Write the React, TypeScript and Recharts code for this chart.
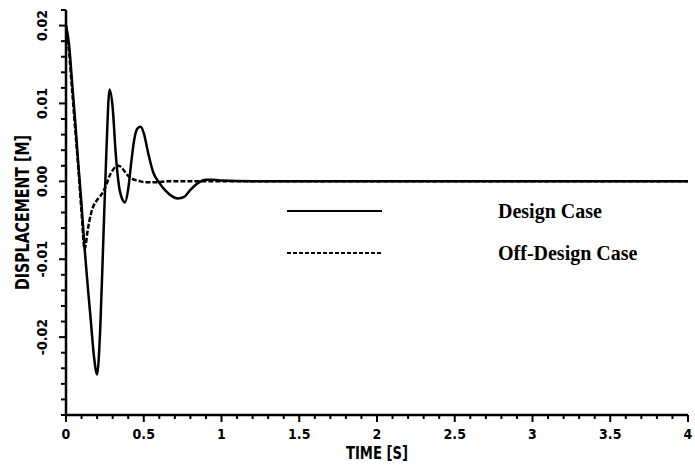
import { LineChart, Line, XAxis, YAxis, Legend } from "recharts";

// time [s] and displacement [m]
const time = [
  0, 0.02, 0.04, 0.06, 0.08, 0.1, 0.12, 0.14, 0.16, 0.18, 0.2, 0.22, 0.24, 0.26, 0.28, 0.3,
  0.32, 0.34, 0.36, 0.38, 0.4, 0.42, 0.44, 0.46, 0.48, 0.5, 0.53, 0.56, 0.6, 0.64, 0.68, 0.72,
  0.76, 0.8, 0.85, 0.9, 0.95, 1.0, 1.2, 1.5, 2, 2.5, 3, 3.5, 4,
];
const designCase = [
  0.02, 0.0175, 0.0125, 0.0075, 0.002, -0.003, -0.0087, -0.0135, -0.018, -0.0225, -0.0248, -0.019,
  -0.0075, 0.004, 0.0118, 0.0095, 0.0035, -0.0005, -0.0022, -0.0027, -0.001, 0.0025, 0.0055, 0.0068,
  0.007, 0.0062, 0.0035, 0.0012, -0.0002, -0.0012, -0.0019, -0.0022, -0.002, -0.0011, -0.0002, 0.0002,
  0.0002, 0.0001, 0, 0, 0, 0, 0, 0, 0,
];
const offDesignCase = [
  0.02, 0.0165, 0.0115, 0.0065, 0.0015, -0.004, -0.0087, -0.0062, -0.0042, -0.003, -0.0024, -0.0019,
  -0.0013, -0.0004, 0.0007, 0.0014, 0.0019, 0.002, 0.0017, 0.0012, 0.0007, 0.0004, 0.0002, 0.0001,
  0, -0.0001, -0.0001, -0.0001, -0.0001, 0, 0, 0, 0, 0, 0, 0, 0, 0, 0, 0, 0, 0, 0, 0, 0,
];

const xMajorTicks = [0, 0.5, 1, 1.5, 2, 2.5, 3, 3.5, 4];
const xTickLabels = ["0", "0.5", "1", "1.5", "2", "2.5", "3", "3.5", "4"];
const yMajorTicks = [-0.02, -0.01, 0, 0.01, 0.02];
const yTickLabels = ["-0.02", "-0.01", "0.00", "0.01", "0.02"];

// minor ticks: every 0.1 s and every 0.002 m
const xTicks = Array.from({ length: 41 }, (_, i) => i / 10);
const yTicks = Array.from({ length: 27 }, (_, i) => Math.round((-0.03 + i * 0.002) * 1000) / 1000);

const data = time.map((t, i) => ({ t, design: designCase[i], offDesign: offDesignCase[i] }));

const NARROW = "'Liberation Sans Narrow', 'DejaVu Sans Condensed', 'Liberation Sans', sans-serif";
const SERIF = "'Liberation Serif', 'DejaVu Serif', serif";

const findMajor = (list: number[], v: number) => list.findIndex(m => Math.abs(m - v) < 1e-6);

function XTick(props: any) {
  const { x, y, payload } = props;
  const idx = findMajor(xMajorTicks, payload.value);
  return (
    <g>
      <line x1={x} x2={x} y1={y} y2={y + (idx >= 0 ? 7 : 4)} stroke="#000" strokeWidth={2} />
      {idx >= 0 && (
        <text x={x} y={y + 24} textAnchor="middle" fontFamily={NARROW} fontWeight="bold" fontSize={14} fill="#000">
          {xTickLabels[idx]}
        </text>
      )}
    </g>
  );
}

function YTick(props: any) {
  const { x, y, payload } = props;
  const idx = findMajor(yMajorTicks, payload.value);
  return (
    <g>
      <line x1={x - (idx >= 0 ? 7 : 5)} x2={x} y1={y} y2={y} stroke="#000" strokeWidth={2} />
      {idx >= 0 && (
        <text
          x={x - 24}
          y={y}
          transform={`rotate(-90 ${x - 24} ${y})`}
          textAnchor="middle"
          dominantBaseline="central"
          fontFamily={NARROW}
          fontWeight="bold"
          fontSize={14}
          fill="#000"
        >
          {yTickLabels[idx]}
        </text>
      )}
    </g>
  );
}

function LegendBox(props: any) {
  const items = props.payload || [];
  return (
    <svg width={400} height={84}>
      {items.map((it: any, i: number) => {
        const cy = 21 + i * 42;
        return (
          <g key={it.value}>
            <line
              x1={7}
              x2={102}
              y1={cy}
              y2={cy}
              stroke="#000"
              strokeWidth={2}
              strokeDasharray={i === 1 ? "4 2" : undefined}
            />
            <text x={218} y={cy} dominantBaseline="central" fontFamily={SERIF} fontWeight="bold" fontSize={20} fill="#000">
              {it.value}
            </text>
          </g>
        );
      })}
    </svg>
  );
}

export default function App() {
  return (
    <div style={{ position: "absolute", left: 0, top: 0, background: "#fff" }}>
      <LineChart width={695} height={468} data={data} margin={{ top: 10, right: 7, bottom: 23, left: 0 }}>
        <XAxis
          type="number"
          dataKey="t"
          domain={[0, 4]}
          ticks={xTicks}
          interval={0}
          tickSize={0}
          tickMargin={0}
          tickLine={false}
          height={30}
          axisLine={{ stroke: "#000", strokeWidth: 2.5 }}
          tick={<XTick />}
          label={{
            value: "TIME [S]",
            content: (p: any) => {
              const vb = p.viewBox || { x: 66, y: 415, width: 622 };
              return (
                <text
                  x={vb.x + vb.width / 2}
                  y={vb.y + 44}
                  textAnchor="middle"
                  fontFamily={NARROW}
                  fontWeight="bold"
                  fontSize={18}
                  textLength={62}
                  lengthAdjust="spacingAndGlyphs"
                  fill="#000"
                >
                  TIME [S]
                </text>
              );
            },
          }}
        />
        <YAxis
          type="number"
          domain={[-0.03, 0.022]}
          ticks={yTicks}
          interval={0}
          tickSize={0}
          tickMargin={0}
          tickLine={false}
          width={66}
          allowDataOverflow
          axisLine={{ stroke: "#000", strokeWidth: 2.5 }}
          tick={<YTick />}
          label={{
            value: "DISPLACEMENT [M]",
            content: (p: any) => {
              const vb = p.viewBox || { x: 0, y: 10, width: 66, height: 405 };
              const cx = 22;
              const cy = vb.y + vb.height / 2;
              return (
                <text
                  x={cx}
                  y={cy}
                  transform={`rotate(-90 ${cx} ${cy})`}
                  textAnchor="middle"
                  dominantBaseline="central"
                  fontFamily={NARROW}
                  fontWeight="bold"
                  fontSize={19}
                  textLength={155}
                  lengthAdjust="spacingAndGlyphs"
                  fill="#000"
                >
                  DISPLACEMENT [M]
                </text>
              );
            },
          }}
        />
        <Legend
          layout="horizontal"
          verticalAlign="middle"
          align="center"
          wrapperStyle={{ left: 280, top: 190, width: 400, height: 84 }}
          content={<LegendBox />}
        />
        <Line
          type="monotone"
          dataKey="design"
          name="Design Case"
          stroke="#000"
          strokeWidth={2.5}
          dot={false}
          isAnimationActive={false}
        />
        <Line
          type="monotone"
          dataKey="offDesign"
          name="Off-Design Case"
          stroke="#000"
          strokeWidth={2.5}
          strokeDasharray="5 2"
          dot={false}
          isAnimationActive={false}
        />
      </LineChart>
    </div>
  );
}
